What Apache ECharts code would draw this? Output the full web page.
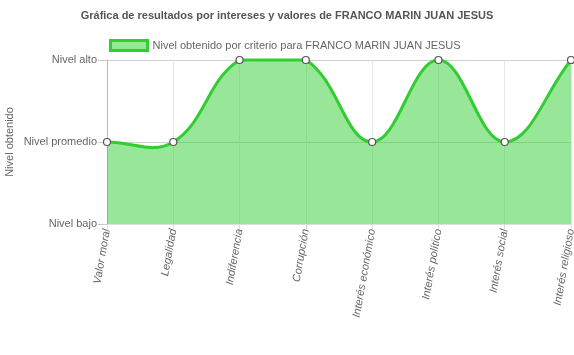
<!DOCTYPE html>
<html>
<head>
    <meta charset="utf-8">
    <title>ECharts</title>
    <script src="https://cdn.jsdelivr.net/npm/echarts@6/dist/echarts.min.js"></script>
    <style>
        html, body { margin: 0; padding: 0; background: #fff; }
    </style>
</head>
<body>
    <div id="main" style="width: 574px;height:355px;"></div>
    <script>
        var categorias = ['Valor moral', 'Legalidad', 'Indiferencia', 'Corrupción', 'Interés económico', 'Interés político', 'Interés social', 'Interés religioso'];
        var niveles = ['Nivel bajo', 'Nivel promedio', 'Nivel alto'];
        // 0 = bajo, 1 = promedio, 2 = alto
        var valores = [1, 1, 2, 2, 1, 2, 1, 2];
        var serieNombre = 'Nivel obtenido por criterio para FRANCO MARIN JUAN JESUS';

        var verde = 'rgb(50,205,50)';
        var verdeRelleno = 'rgba(50,205,50,0.5)';
        var tension = 0.4;

        // curva tipo spline (tension) con puntos de control limitados al area del grafico
        function curva(pts, area) {
            var cps = [];
            for (var i = 0; i < pts.length; i++) {
                var prev = pts[i - 1] || pts[i], cur = pts[i], next = pts[i + 1] || pts[i];
                var d01 = Math.hypot(cur[0] - prev[0], cur[1] - prev[1]);
                var d12 = Math.hypot(next[0] - cur[0], next[1] - cur[1]);
                var s01 = d01 / (d01 + d12) || 0, s12 = d12 / (d01 + d12) || 0;
                var fa = tension * s01, fb = tension * s12;
                var a = [cur[0] - fa * (next[0] - prev[0]), cur[1] - fa * (next[1] - prev[1])];
                var b = [cur[0] + fb * (next[0] - prev[0]), cur[1] + fb * (next[1] - prev[1])];
                [a, b].forEach(function (p) {
                    p[0] = Math.max(area.x, Math.min(area.x + area.width, p[0]));
                    p[1] = Math.max(area.y, Math.min(area.y + area.height, p[1]));
                });
                cps.push([a, b]);
            }
            var d = 'M' + pts[0][0] + ' ' + pts[0][1];
            for (var j = 1; j < pts.length; j++) {
                d += ' C' + cps[j - 1][1][0] + ' ' + cps[j - 1][1][1] + ' ' +
                    cps[j][0][0] + ' ' + cps[j][0][1] + ' ' + pts[j][0] + ' ' + pts[j][1];
            }
            return d;
        }

        var myChart = echarts.init(document.getElementById('main'));

        var option = {
            backgroundColor: '#fff',
            textStyle: { fontFamily: 'Liberation Sans, Arial, sans-serif' },
            title: {
                text: 'Gráfica de resultados por intereses y valores de FRANCO MARIN JUAN JESUS',
                left: 'center',
                top: 5,
                textStyle: { fontSize: 11, fontWeight: 'bold', color: '#555' }
            },
            legend: {
                top: 34,
                left: 104,
                itemWidth: 37,
                itemHeight: 10,
                textStyle: { fontSize: 11, color: '#666' },
                data: [{
                    name: serieNombre,
                    icon: 'rect',
                    itemStyle: { color: verdeRelleno, borderColor: verde, borderWidth: 3 }
                }]
            },
            grid: { left: 107, right: 3, top: 60, bottom: 131, containLabel: false, outerBoundsMode: 'none' },
            xAxis: {
                type: 'category',
                boundaryGap: false,
                data: categorias,
                axisLine: { show: true, lineStyle: { color: '#ddd' } },
                axisTick: { show: true, alignWithLabel: true, length: 5, lineStyle: { color: '#ddd' } },
                axisLabel: { rotate: 80, fontStyle: 'italic', color: '#666', fontSize: 11, margin: 5, interval: 0 },
                splitLine: { show: true, lineStyle: { color: '#e6e6e6' } }
            },
            yAxis: {
                type: 'value',
                min: 0,
                max: 2,
                interval: 1,
                name: 'Nivel obtenido',
                nameLocation: 'middle',
                nameGap: 92,
                nameMoveOverlap: false,
                nameTextStyle: { color: '#666', fontSize: 11 },
                axisLine: { show: true, lineStyle: { color: '#bbb' } },
                axisTick: { show: true, length: 9, lineStyle: { color: '#ccc' } },
                axisLabel: {
                    color: '#666', fontSize: 11, margin: 10,
                    formatter: function (v) { return niveles[v]; }
                },
                splitLine: { show: true, lineStyle: { color: '#d0d0d0' } }
            },
            series: [{
                name: serieNombre,
                type: 'custom',
                data: valores.map(function (v, i) { return [i, v]; }),
                renderItem: function (params, api) {
                    if (params.dataIndex !== 0) return;
                    var area = params.coordSys;
                    var pts = valores.map(function (v, i) { return api.coord([i, v]); });
                    var linea = curva(pts, area);
                    var base = area.y + area.height;
                    var relleno = linea + ' L' + pts[pts.length - 1][0] + ' ' + base + ' L' + pts[0][0] + ' ' + base + ' Z';
                    return {
                        type: 'group',
                        children: [{
                            type: 'path',
                            shape: { pathData: relleno },
                            style: { fill: verdeRelleno, stroke: null }
                        }, {
                            type: 'path',
                            shape: { pathData: linea },
                            style: { fill: null, stroke: verde, lineWidth: 3 }
                        }]
                    };
                },
                itemStyle: { color: verdeRelleno, borderColor: verde, borderWidth: 3 },
                z: 2
            }, {
                name: serieNombre,
                type: 'line',
                data: valores,
                symbol: 'circle',
                symbolSize: 7,
                itemStyle: { color: '#fff', borderColor: '#555', borderWidth: 1.2 },
                lineStyle: { width: 0, opacity: 0 },
                z: 3
            }]
        };
        myChart.setOption(option);
    </script>
</body>
</html>
